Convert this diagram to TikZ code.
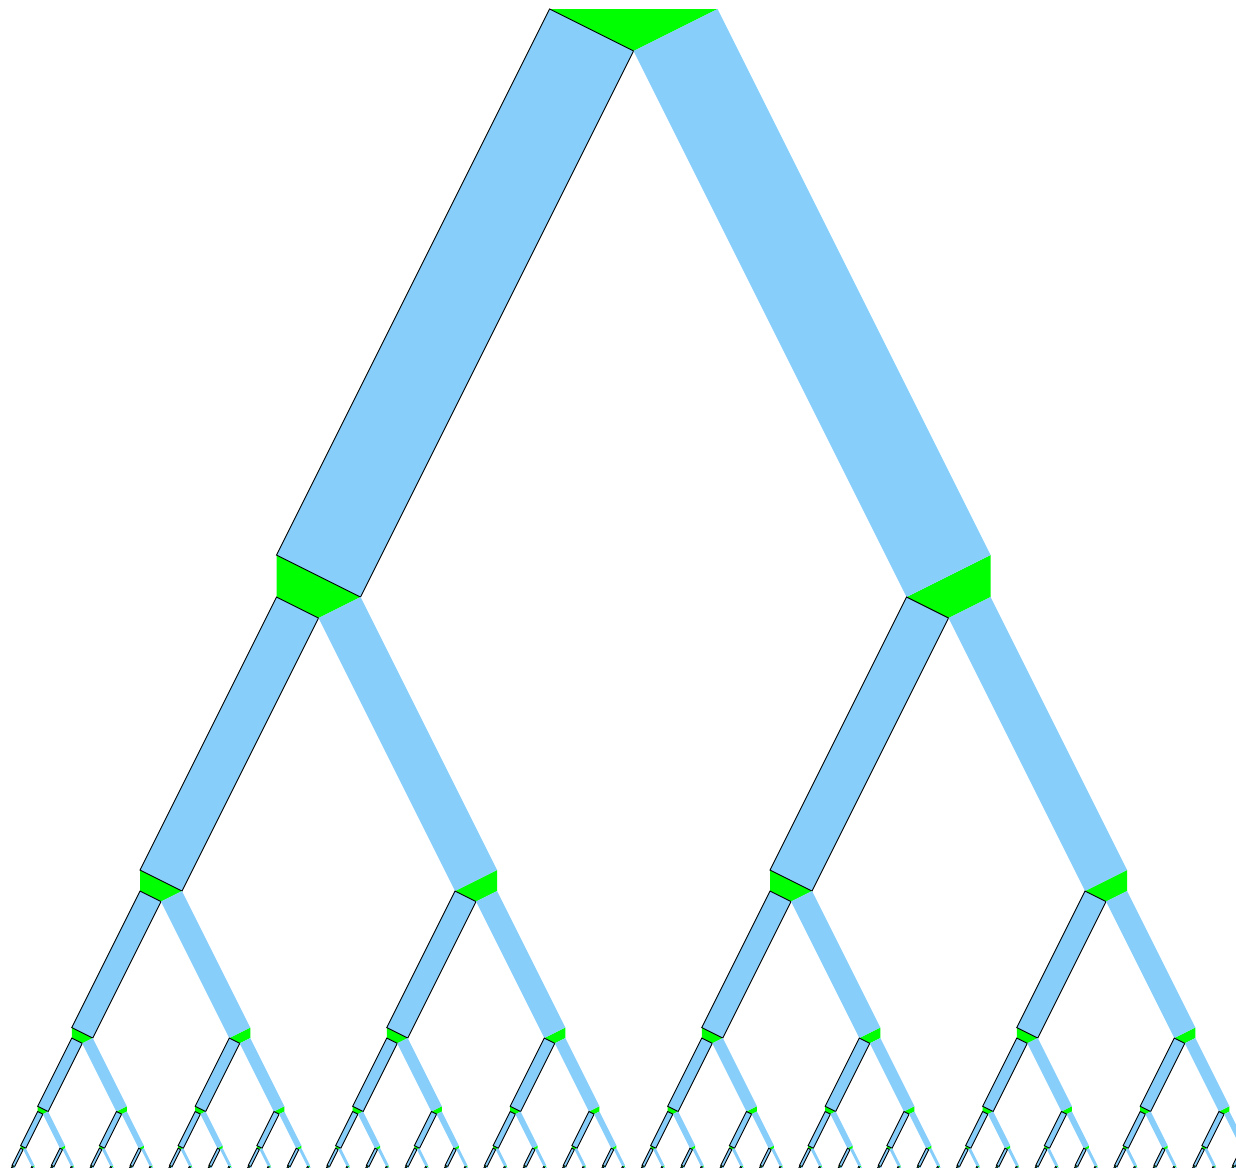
\documentclass[tikz,border=0pt]{standalone}
\usepackage{tikz}
\usetikzlibrary{calc}
\definecolor{branchblue}{RGB}{135,206,250}
\definecolor{forkgreen}{RGB}{0,255,0}
\tikzset{
    branch/.style={fill=branchblue},
    fork/.style={fill=forkgreen},
}
% #1,#2: 分叉中心与顶边  #3: 半宽  #4: 剩余层数
\newcommand\drawFork[4]{%
  \ifnum#4>0
  \begingroup
    \pgfmathsetmacro\fx{#1}%
    \pgfmathsetmacro\fy{#2}%
    \pgfmathsetmacro\fw{#3}%
    \pgfmathsetmacro\lx{\fx-3.75*\fw}%
    \pgfmathsetmacro\rx{\fx+3.75*\fw}%
    \pgfmathsetmacro\ny{\fy+7*\fw}%
    \pgfmathsetmacro\nw{\fw/2}%
    % 绿色连接块
    \fill[fork] (\fx-4.25*\fw,\fy+6.5*\fw) -- (\fx-3.25*\fw,\ny) -- (\lx,\ny+\nw/2) -- (\fx-4.25*\fw,\ny) -- cycle;
    \fill[fork] (\fx+4.25*\fw,\fy+6.5*\fw) -- (\fx+4.25*\fw,\ny) -- (\rx,\ny+\nw/2) -- (\fx+3.25*\fw,\ny) -- cycle;
    % 左枝（带边框）
    \filldraw[branch,draw=black] (\fx-\fw,\fy) -- (\fx,\fy+\fw/2) -- (\fx-3.25*\fw,\ny) -- (\fx-4.25*\fw,\fy+6.5*\fw) -- cycle;
    % 右枝
    \fill[branch] (\fx,\fy+\fw/2) -- (\fx+\fw,\fy) -- (\fx+4.25*\fw,\fy+6.5*\fw) -- (\fx+3.25*\fw,\ny) -- cycle;
    \pgfmathtruncatemacro\nd{#4-1}%
    \drawFork{\lx}{\ny}{\nw}{\nd}%
    \drawFork{\rx}{\ny}{\nw}{\nd}%
  \endgroup
  \fi}

\begin{document}
\begin{tikzpicture}[
                x=1pt,y=-1pt, % 像素坐标
                line width=0.9pt,
            ]
            \useasboundingbox (0,0) rectangle (1236,1167);
            \clip (0,0) rectangle (1236,1167);
            % 根部参数
            \def\rootX{633.5}
            \def\rootY{9}
            \def\rootW{84}
            % 顶部三角形
            \fill[fork] (\rootX-\rootW,\rootY) -- (\rootX,\rootY+\rootW/2) -- (\rootX+\rootW,\rootY) -- cycle;
            % 递归画树
            \drawFork{\rootX}{\rootY}{\rootW}{7}
\end{tikzpicture}
\end{document}
